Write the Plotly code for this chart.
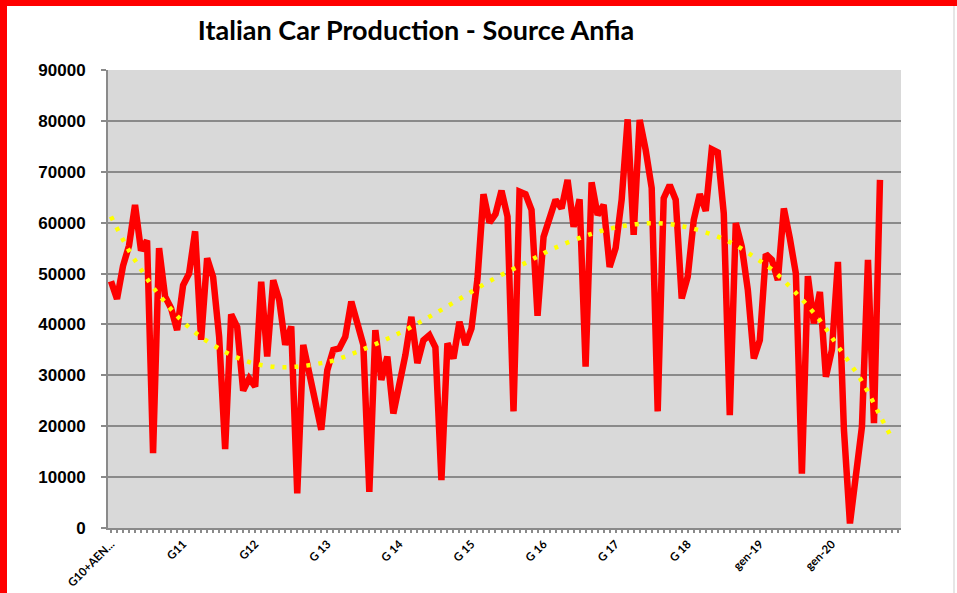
import plotly.graph_objects as go

# ---- data (monthly Italian car production, Jan 2010 .. Sep 2020) ----
production = [
    48500, 45000, 51500, 55500, 63500, 54500, 56500, 14700, 55000, 45500, 43200, 38900,
    47700, 50000, 58300, 37000, 53000, 49300, 37600, 15500, 42000, 39500, 27000, 29400,
    27800, 48400, 33700, 48700, 44800, 36000, 39600, 6800, 36000, 30000, 25000, 19300,
    31000, 35000, 35300, 37600, 44500, 40500, 36000, 7100, 38900, 29100, 33700, 22500,
    28000, 34000, 41500, 32400, 36900, 37900, 35500, 9400, 36300, 33300, 40500, 36000,
    39200, 49000, 65600, 60000, 61700, 66300, 61200, 22900, 66100, 65600, 62500, 41700,
    57200, 60900, 64500, 62800, 68400, 59200, 64600, 31700, 67900, 61500, 63500, 51300,
    55000, 64500, 80300, 57600, 80200, 74300, 66800, 22900, 64800, 67400, 64500, 45100,
    49400, 60500, 65600, 62300, 74400, 73800, 61800, 22200, 59900, 55300, 46800, 33300,
    36900, 53800, 52700, 48700, 62800, 56900, 50000, 10700, 49500, 40200, 46400, 29700,
    35000, 52300, 19300, 900, 10100, 19900, 52700, 20600, 68400,
]

# trendline at given month indices
trend_month = [0, 3, 5, 7, 10, 12, 15, 19, 23, 27, 31, 35, 37, 42, 48, 53, 58, 63,
               69, 74, 80, 85, 91, 97, 103, 108, 110, 114, 118, 121, 125, 128, 130]
trend_value = [61200, 54500, 50800, 47300, 43000, 40500, 37500, 34600, 32600, 31700,
               31700, 32400, 32900, 35100, 38300, 41500, 45000, 48500, 52100, 55100,
               57800, 59300, 59900, 58800, 56200, 52500, 50800, 46200, 40800, 35700,
               28800, 22100, 17600]

n_categories = 132  # Jan 2010 .. Dec 2020
tick_labels = ["G10+AEN...", "G11", "G12", "G 13", "G 14", "G 15", "G 16", "G 17",
               "G 18", "gen-19", "gen-20"]
tick_positions = [12 * i for i in range(len(tick_labels))]

months = list(range(len(production)))

# ---- layout geometry (pixels) ----
W, H = 957, 593
L, R, T, B = 108, 901, 70, 528


def px(x):
    return (x - L) / (R - L)


def py(y):
    return (B - y) / (B - T)


GRID = "#8a8a8a"

fig = go.Figure()
fig.add_trace(go.Scatter(
    x=months, y=production, mode="lines",
    line=dict(color="#ff0000", width=6.5),
    hoverinfo="skip", showlegend=False,
))
fig.add_trace(go.Scatter(
    x=trend_month, y=trend_value, mode="lines",
    line=dict(color="#ffff00", width=4.5, dash="4px,8px", shape="spline", smoothing=1),
    hoverinfo="skip", showlegend=False,
))

shapes = [
    # red frame (top and left bands)
    dict(type="rect", xref="paper", yref="paper", x0=px(0), x1=px(W), y0=py(6), y1=py(0),
         fillcolor="#ff0000", line=dict(width=0), layer="above"),
    dict(type="rect", xref="paper", yref="paper", x0=px(0), x1=px(7), y0=py(H), y1=py(0),
         fillcolor="#ff0000", line=dict(width=0), layer="above"),
    # faint right border
    dict(type="line", xref="paper", yref="paper", x0=px(954), x1=px(954), y0=py(H), y1=py(6),
         line=dict(color="#e6e6e6", width=2)),
]

fig.update_layout(
    width=W, height=H, autosize=False,
    margin=dict(l=L, r=W - R, t=T, b=H - B, pad=0, autoexpand=False),
    paper_bgcolor="white",
    plot_bgcolor="#d9d9d9",
    title=dict(
        text="Italian Car Production - Source Anfia",
        font=dict(family="Lato", size=27, color="black", weight="bold"),
        xref="paper", x=px(416), xanchor="center",
        yref="container", y=1 - 31 / H, yanchor="middle",
    ),
    shapes=shapes,
    xaxis=dict(
        range=[-0.5, n_categories - 0.5],
        tickmode="array", tickvals=tick_positions, ticktext=tick_labels,
        tickangle=-45, automargin=False,
        tickfont=dict(family="Lato", size=11.5, color="black", weight="bold"),
        ticks="outside", ticklen=3, tickwidth=2, tickcolor=GRID,
        minor=dict(ticks="outside", dtick=1, tick0=0, ticklen=3, tickwidth=2, tickcolor=GRID,
                   showgrid=False),
        showgrid=False, zeroline=False,
        showline=True, linecolor=GRID, linewidth=2,
        fixedrange=True,
    ),
    yaxis=dict(
        range=[0, 90000], dtick=10000, tickformat="d", automargin=False,
        tickfont=dict(family="Liberation Sans", size=17, color="black", weight="bold"),
        ticks="outside", ticklen=5, tickwidth=2, tickcolor=GRID,
        ticklabelstandoff=12,
        showgrid=True, gridcolor=GRID, gridwidth=2,
        zeroline=False,
        showline=True, linecolor=GRID, linewidth=2,
        fixedrange=True,
    ),
)

fig.write_html("out.html", config={"displayModeBar": False, "responsive": False},
               post_script="document.body.style.margin='0px';"
                           "document.documentElement.style.overflow='hidden';"
                           "document.body.style.overflow='hidden';")
